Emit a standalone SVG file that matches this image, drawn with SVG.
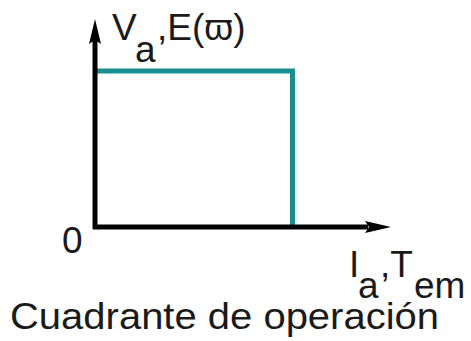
<svg xmlns="http://www.w3.org/2000/svg" width="471" height="341" viewBox="0 0 471 341">
<style>
text{font-family:"Liberation Sans",Arial,sans-serif;font-size:37px;fill:#1a1a1a}
.axis{stroke:#000;stroke-width:5;fill:none}
.curve{stroke:#17908f;stroke-width:5;fill:none}
</style>
<rect width="471" height="341" fill="#fff"/>
<g id="connectors">
<path class="curve" d="M97 71 H292.5 V226"/>
<path class="axis" d="M95 229 V40"/>
<path class="axis" d="M93 227 H368"/>
<polygon points="95,19 101,44 95,40 89,44" fill="#000"/>
<polygon points="391,227 365,221 369,227 365,233" fill="#000"/>
</g>
<g id="label-y">
<text x="112" y="40">V</text>
<text x="135" y="62">a</text>
<text x="157" y="40">,E(ϖ)</text>
</g>
<g id="label-origin">
<text x="62" y="253">0</text>
</g>
<g id="label-x">
<text x="349" y="277">I</text>
<text x="358" y="298">a</text>
<text x="380" y="277">,T</text>
<text x="414" y="298">em</text>
</g>
<g id="caption">
<text x="10" y="329" textLength="429" lengthAdjust="spacingAndGlyphs">Cuadrante de operación</text>
</g>
</svg>
